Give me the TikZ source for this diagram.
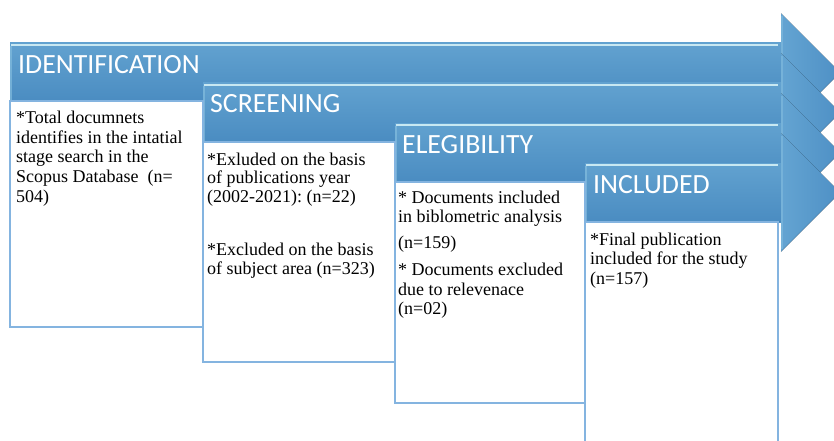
\documentclass[tikz,border=0pt]{standalone}
\usepackage{fontspec}
\setmainfont{Liberation Serif}
\newfontfamily\headfont{Carlito}
\frenchspacing
\definecolor{arrowtop}{RGB}{98,162,208}
\definecolor{arrowbot}{RGB}{74,140,193}
\definecolor{headleft}{RGB}{100,164,210}
\definecolor{headright}{RGB}{78,144,197}
\definecolor{hilite}{RGB}{200,232,242}
\definecolor{bevel}{RGB}{130,188,222}
\definecolor{boxline}{RGB}{132,180,224}
\begin{document}
\begin{tikzpicture}[x=1pt,y=-1pt,
  stagebox/.style={draw=boxline,line width=1.6pt,fill=white},
  headtext/.style={anchor=base west,inner sep=0pt,text=white,font=\headfont\fontsize{27.8}{30}\selectfont},
  bodytext/.style={anchor=base west,inner sep=0pt,font=\fontsize{18}{19.5}\selectfont}]
\useasboundingbox (0,0) rectangle (834,441);
\clip (0,0) rectangle (834,441);
\fill[white] (0,0) rectangle (834,441);
% arrows
\foreach \xx/\tt in {10/43,203/83,395/123,585/163}{
  \fill[top color=arrowtop,bottom color=arrowbot] (\xx,\tt) rectangle (781,\tt+59);
  \draw[bevel,line width=1.5pt,opacity=0.7] (\xx+0.8,\tt+3) -- (\xx+0.8,\tt+58);
  \draw[hilite,line width=2.5pt] (\xx+1,\tt+2) -- (778,\tt+2);
  \draw[arrowbot!85!black,line width=1pt,opacity=0.35] (\xx,\tt+58) -- (781,\tt+58);
  \fill[left color=headleft,right color=headright] (781,\tt-29.5) -- (840,\tt+29.5) -- (781,\tt+88.5) -- cycle;
  \draw[bevel,line width=1.5pt,opacity=0.6] (782,\tt-27) -- (782,\tt+86);
  \draw[headright!80!black,line width=1pt,opacity=0.3] (840,\tt+29.5) -- (781,\tt+88.5);
}
% boxes
\draw[stagebox] (10,101) rectangle (203,327);
\draw[stagebox] (203,142) rectangle (395,362);
\draw[stagebox] (395,182) rectangle (585,403);
\draw[stagebox] (585,222) rectangle (778,450);
% headings
\node[headtext] (h1) at (18,74) {IDENTIFICATION};
\node[headtext] (h2) at (210,113) {SCREENING};
\node[headtext] (h3) at (402,153) {ELEGIBILITY};
\node[headtext] (h4) at (593,193) {INCLUDED};
% box texts
\node[bodytext] (t1) at (16,124) {\parbox[t]{186pt}{\raggedright *Total documnets\\identifies in the intatial\\stage search in the\\Scopus Database\ \ (n=\\504)}};
\node[bodytext] (t2) at (207,165) {\parbox[t]{186pt}{\raggedright\baselineskip=18.5pt *Exluded on the basis\\of publications year\\(2002-2021): (n=22)\\[35pt]*Excluded on the basis\\of subject area (n=323)}};
\node[bodytext] (t3) at (398,203) {\parbox[t]{186pt}{\raggedright * Documents included\\in biblometric analysis\\[6pt](n=159)\\[8pt]* Documents excluded\\due to relevenace\\(n=02)}};
\node[bodytext] (t4) at (590,245) {\parbox[t]{186pt}{\raggedright *Final publication\\included for the study\\(n=157)}};
\end{tikzpicture}
\end{document}
